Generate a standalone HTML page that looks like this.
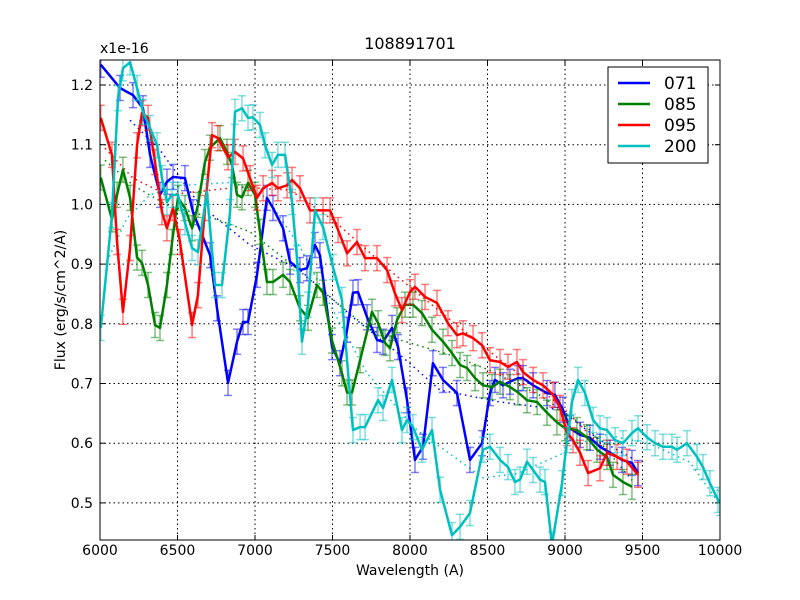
<!DOCTYPE html>
<html><head><meta charset="utf-8"><style>
body{margin:0;background:#fff;}
svg{display:block;font-family:"DejaVu Sans","Liberation Sans",sans-serif;}
</style></head><body>
<svg id="chart" width="800" height="600" xmlns="http://www.w3.org/2000/svg">
<rect width="800" height="600" fill="#fff"/>
<defs><clipPath id="clip"><rect x="100" y="60" width="620" height="480"/></clipPath></defs>
<text x="410" y="49" text-anchor="middle" font-size="16">108891701</text>
<text x="100" y="53" font-size="14">x1e-16</text>
<text x="410" y="575" text-anchor="middle" font-size="14">Wavelength (A)</text>
<text transform="translate(65,300) rotate(-90)" text-anchor="middle" font-size="14">Flux (erg/s/cm^2/A)</text>
<g id="grid"></g>
<g id="series" clip-path="url(#clip)"></g>
<rect x="100" y="60" width="620" height="480" fill="none" stroke="#000" stroke-width="1"/>
<g id="legend"></g>
</svg>
<script>
const xTicks=[6000,6500,7000,7500,8000,8500,9000,9500,10000];
const yTicks=[0.5,0.6,0.7,0.8,0.9,1.0,1.1,1.2];
const seriesNames=["071","085","095","200"];
const seriesColors=["#0000ff","#008000","#ff0000","#00bfbf"];
const w071=[6005,6129,6213,6277,6323,6387,6432,6471,6548,6600,6710,6755,6826,6884,6923,6955,7013,7077,7116,7181,7226,7290,7335,7387,7419,7497,7548,7594,7632,7665,7723,7787,7826,7884,7923,7981,8032,8084,8148,8213,8303,8387,8465,8516,8548,8600,8645,8697,8729,8794,8884,8935,8987,9032,9097,9161,9226,9290,9368,9432,9471];
const f071=[1.234,1.195,1.183,1.161,1.083,1.016,1.038,1.046,1.044,0.987,0.915,0.826,0.701,0.770,0.803,0.803,0.882,1.011,0.994,0.960,0.904,0.890,0.893,0.932,0.915,0.761,0.734,0.790,0.852,0.853,0.811,0.773,0.770,0.793,0.761,0.672,0.572,0.594,0.734,0.706,0.684,0.572,0.600,0.684,0.706,0.697,0.703,0.709,0.709,0.697,0.684,0.681,0.656,0.625,0.614,0.609,0.594,0.584,0.572,0.567,0.550];
const w085=[6005,6077,6110,6148,6194,6239,6271,6310,6355,6387,6432,6465,6503,6548,6594,6632,6677,6710,6774,6819,6852,6884,6916,6955,7000,7032,7077,7116,7181,7226,7290,7342,7400,7439,7497,7561,7594,7626,7678,7755,7794,7839,7871,7916,7968,8019,8077,8142,8213,8271,8323,8368,8420,8471,8529,8581,8645,8697,8755,8820,8884,8948,9000,9077,9142,9207,9271,9310,9374,9432];
const f085=[1.045,0.975,1.016,1.058,1.011,0.911,0.902,0.865,0.798,0.793,0.865,0.937,1.011,0.994,0.960,0.999,1.071,1.095,1.111,1.088,1.066,1.016,1.012,1.036,1.016,0.954,0.870,0.870,0.882,0.870,0.826,0.810,0.865,0.852,0.772,0.717,0.685,0.685,0.739,0.820,0.801,0.768,0.759,0.806,0.832,0.832,0.818,0.790,0.770,0.751,0.731,0.726,0.709,0.697,0.694,0.703,0.694,0.685,0.672,0.669,0.651,0.635,0.625,0.622,0.610,0.589,0.577,0.547,0.535,0.527];
const w095=[6005,6077,6110,6148,6194,6239,6271,6310,6355,6400,6432,6471,6516,6594,6632,6677,6723,6761,6826,6871,6923,6968,7013,7052,7110,7148,7207,7239,7290,7355,7439,7484,7536,7594,7658,7710,7787,7852,7903,7948,8000,8032,8097,8174,8245,8303,8342,8407,8465,8516,8581,8632,8690,8729,8794,8858,8923,8968,9013,9052,9097,9149,9226,9271,9336,9400,9471];
const f095=[1.145,1.083,0.937,0.820,0.927,1.099,1.153,1.145,1.071,0.987,0.960,0.994,0.937,0.798,0.848,0.994,1.116,1.111,1.079,1.088,1.077,1.044,1.011,1.027,1.036,1.027,1.032,1.041,1.027,0.990,0.990,0.990,0.957,0.918,0.937,0.910,0.910,0.890,0.851,0.823,0.853,0.862,0.845,0.835,0.801,0.781,0.784,0.776,0.764,0.739,0.736,0.728,0.736,0.719,0.706,0.697,0.681,0.659,0.617,0.605,0.584,0.550,0.558,0.584,0.577,0.569,0.547];
const w200=[6005,6077,6116,6148,6194,6239,6277,6323,6368,6400,6432,6465,6503,6548,6594,6632,6690,6742,6787,6839,6871,6916,6955,6987,7032,7065,7110,7148,7194,7239,7271,7303,7342,7387,7439,7503,7561,7632,7678,7710,7794,7826,7884,7948,7981,8019,8077,8142,8194,8271,8323,8387,8471,8516,8581,8632,8677,8710,8755,8794,8839,8871,8916,8981,9013,9045,9084,9129,9181,9226,9271,9323,9374,9432,9471,9529,9581,9632,9690,9723,9787,9852,9890,9935,9987,10000];
const f200=[0.793,0.982,1.178,1.228,1.238,1.195,1.155,1.128,1.099,1.044,1.004,1.016,1.016,0.970,0.927,0.920,1.021,0.865,0.865,0.987,1.155,1.161,1.145,1.146,1.133,1.099,1.066,1.083,1.083,1.004,0.910,0.770,0.832,0.990,0.962,0.895,0.840,0.622,0.627,0.627,0.672,0.659,0.706,0.622,0.639,0.627,0.589,0.622,0.522,0.446,0.460,0.483,0.589,0.594,0.572,0.560,0.535,0.539,0.569,0.555,0.539,0.535,0.430,0.533,0.605,0.669,0.706,0.684,0.639,0.625,0.622,0.605,0.600,0.617,0.625,0.610,0.600,0.594,0.594,0.589,0.600,0.577,0.560,0.533,0.505,0.500];
const errHalf=0.021;
const sw071=[6194,6387,6645,6968,7290,7632,7935,8194,8581,8968,9226,9452];
const sf071=[1.141,1.091,0.999,0.932,0.890,0.811,0.748,0.689,0.669,0.656,0.605,0.572];
const sw085=[6032,6213,6432,6729,6968,7161,7355,7503,7742,7935,8258,8516,8839,9161,9432];
const sf085=[1.074,1.032,0.999,0.977,0.954,0.915,0.874,0.840,0.790,0.773,0.748,0.722,0.680,0.622,0.538];
const sw095=[6032,6213,6432,6903,7226,7503,7890,8258,8581,8968,9226,9471];
const sf095=[1.094,1.044,1.016,1.029,1.024,0.974,0.885,0.807,0.740,0.664,0.597,0.555];
const sw200=[6045,6174,6323,6535,6858,7077,7290,7503,7723,8045,8471,8690,8987,9226,9548,9806,10000];
const sf200=[0.904,0.977,1.016,1.032,1.037,1.011,0.929,0.823,0.717,0.622,0.542,0.549,0.583,0.616,0.599,0.568,0.497];

const X=w=>100+(w-6000)*620/4000;
const Y=f=>85+(1.2-f)*597;
const NS="http://www.w3.org/2000/svg";
function mk(tag,attrs,parent){const e=document.createElementNS(NS,tag);for(const k in attrs)e.setAttribute(k,attrs[k]);parent.appendChild(e);return e;}
const grid=document.getElementById('grid');
xTicks.forEach(t=>{
 const x=X(t);
 const g=mk('line',{x1:x,x2:x,y1:60,y2:540,stroke:'#000','stroke-dasharray':'1.5,3','stroke-width':1},grid);
 
 
 mk('line',{x1:x,x2:x,y1:540,y2:535,stroke:'#000'},grid);
 mk('line',{x1:x,x2:x,y1:60,y2:65,stroke:'#000'},grid);
 const l=mk('text',{x:x,y:555,'text-anchor':'middle','font-size':14},grid);
 l.textContent=t;
 
 
});
yTicks.forEach(t=>{
 const y=Y(t);
 const g=mk('line',{x1:100,x2:720,y1:y,y2:y,stroke:'#000','stroke-dasharray':'1.5,3','stroke-width':1},grid);
 
 
 mk('line',{x1:100,x2:105,y1:y,y2:y,stroke:'#000'},grid);
 mk('line',{x1:715,x2:720,y1:y,y2:y,stroke:'#000'},grid);
 const l=mk('text',{x:93,y:y+5,'text-anchor':'end','font-size':14},grid);
 l.textContent=t.toFixed(1);
 
 
});
const sg=document.getElementById('series');
const W=[w071,w085,w095,w200],F=[f071,f085,f095,f200],SW=[sw071,sw085,sw095,sw200],SF=[sf071,sf085,sf095,sf200];
for(let s=0;s<4;s++){
 const c=seriesColors[s];
 const sm=mk('polyline',{points:SW[s].map((w,i)=>X(w)+','+Y(SF[s][i])).join(' '),fill:'none',stroke:c,'stroke-width':1.5,'stroke-dasharray':'1.5,4'},sg);
 
 
}
for(let s=0;s<4;s++){
 const c=seriesColors[s];
 const eg=mk('g',{stroke:c,'stroke-opacity':0.5,'stroke-width':1.5},sg);
 
 
 W[s].forEach((w,i)=>{
  const x=X(w),y1=Y(F[s][i]+errHalf),y2=Y(F[s][i]-errHalf);
  mk('line',{x1:x,x2:x,y1:y1,y2:y2},eg);
  mk('line',{x1:x-4,x2:x+4,y1:y1,y2:y1},eg);
  mk('line',{x1:x-4,x2:x+4,y1:y2,y2:y2},eg);
 });
 const p=mk('polyline',{points:W[s].map((w,i)=>X(w)+','+Y(F[s][i])).join(' '),fill:'none',stroke:c,'stroke-width':2.5,'stroke-linejoin':'round'},sg);
 
 
}
const lg=document.getElementById('legend');
const box=mk('rect',{x:608,y:67,width:100,height:96,fill:'#fff',stroke:'#000'},lg);


seriesNames.forEach((n,i)=>{
 const y=83+i*21;
 const l=mk('line',{x1:618,x2:650,y1:y,y2:y,stroke:seriesColors[i],'stroke-width':2.5},lg);
 
 
 const t=mk('text',{x:664,y:y+6,'font-size':17},lg);
 t.textContent=n;
 
 
});
</script>
</body></html>
